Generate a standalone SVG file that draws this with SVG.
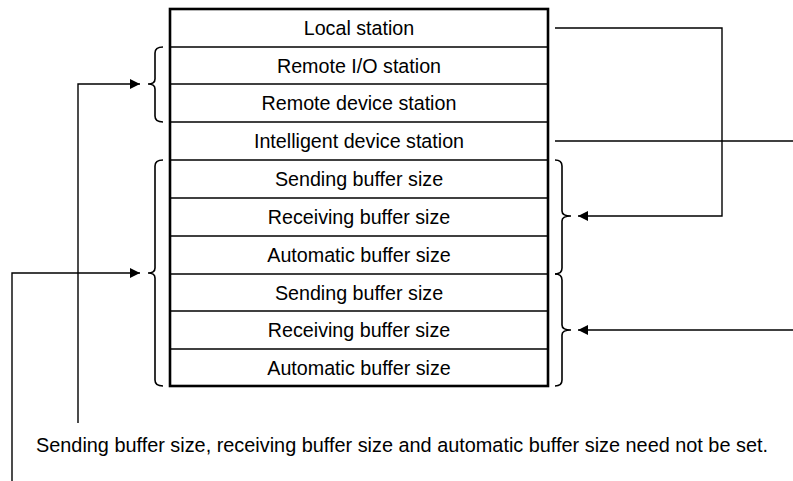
<svg xmlns="http://www.w3.org/2000/svg" width="793" height="481" viewBox="0 0 793 481">
<style>
.t{font-family:"Liberation Sans",Arial,sans-serif;font-size:19.7px;fill:#000;text-anchor:middle}
.row{fill:none;stroke:#000;stroke-width:1.6}
.br{fill:none;stroke:#000;stroke-width:1.6}
.ln{fill:none;stroke:#000;stroke-width:1.4}
</style>
<defs>
<marker id="ah" markerWidth="10" markerHeight="10" refX="10" refY="5" orient="auto" markerUnits="userSpaceOnUse">
<path d="M0,0 L10,5 L0,10 Z" fill="#000"/>
</marker>
</defs>
<rect width="793" height="481" fill="#fff"/>
<g id="table">
<rect x="170" y="9" width="378" height="377" fill="#fff" stroke="#000" stroke-width="2.6"/>
<line class="row" x1="170" y1="47" x2="548" y2="47"/>
<line class="row" x1="170" y1="84" x2="548" y2="84"/>
<line class="row" x1="170" y1="122" x2="548" y2="122"/>
<line class="row" x1="170" y1="160" x2="548" y2="160"/>
<line class="row" x1="170" y1="198" x2="548" y2="198"/>
<line class="row" x1="170" y1="236" x2="548" y2="236"/>
<line class="row" x1="170" y1="274" x2="548" y2="274"/>
<line class="row" x1="170" y1="311" x2="548" y2="311"/>
<line class="row" x1="170" y1="349" x2="548" y2="349"/>
</g>
<g id="row-local"><text class="t" x="359" y="35">Local station</text></g>
<g id="row-remote-io"><text class="t" x="359" y="72.5">Remote I/O station</text></g>
<g id="row-remote-device"><text class="t" x="359" y="110">Remote device station</text></g>
<g id="row-intelligent"><text class="t" x="359" y="148">Intelligent device station</text></g>
<g id="row-send1"><text class="t" x="359" y="186">Sending buffer size</text></g>
<g id="row-recv1"><text class="t" x="359" y="224">Receiving buffer size</text></g>
<g id="row-auto1"><text class="t" x="359" y="262">Automatic buffer size</text></g>
<g id="row-send2"><text class="t" x="359" y="299.5">Sending buffer size</text></g>
<g id="row-recv2"><text class="t" x="359" y="337">Receiving buffer size</text></g>
<g id="row-auto2"><text class="t" x="359" y="374.5">Automatic buffer size</text></g>
<g id="braces">
<path class="br" d="M163,47 Q155,47 155,53 L155,79 Q155,84 148,84 Q155,84 155,89 L155,116 Q155,122 163,122"/>
<path class="br" d="M163,160 Q155,160 155,166 L155,268 Q155,273 148,273 Q155,273 155,278 L155,380 Q155,386 163,386"/>
<path class="br" d="M555,160 Q562,160 562,166 L562,211 Q562,216 571,216 Q562,216 562,221 L562,268 Q562,274 555,274"/>
<path class="br" d="M555,274 Q562,274 562,280 L562,325 Q562,330 571,330 Q562,330 562,335 L562,380 Q562,386 555,386"/>
</g>
<g id="connectors">
<polyline class="ln" points="78,423 78,84 140,84" marker-end="url(#ah)"/>
<polyline class="ln" points="12,481 12,273 140,273" marker-end="url(#ah)"/>
<polyline class="ln" points="555,28 722,28 722,216 578,216" marker-end="url(#ah)"/>
<line class="ln" x1="555" y1="141" x2="793" y2="141"/>
<line class="ln" x1="793" y1="330" x2="578" y2="330" marker-end="url(#ah)"/>
</g>
<g id="note"><text class="t" x="36" y="452" textLength="732" lengthAdjust="spacingAndGlyphs" style="text-anchor:start">Sending buffer size, receiving buffer size and automatic buffer size need not be set.</text></g>
</svg>
